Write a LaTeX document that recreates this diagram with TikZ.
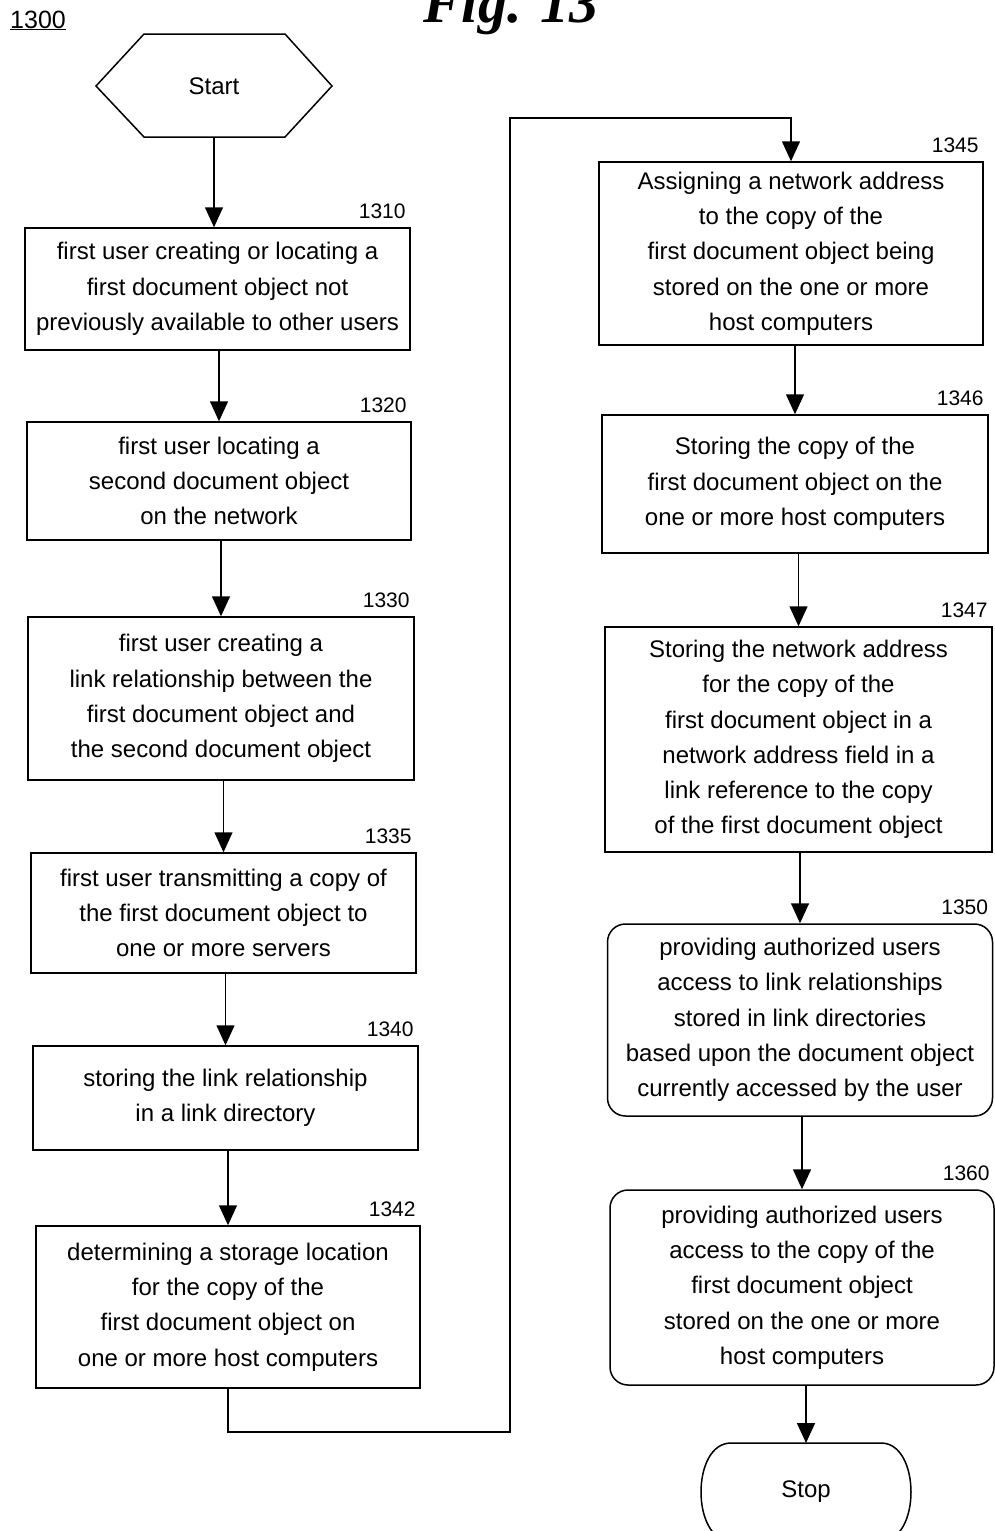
\documentclass[tikz,border=0pt]{standalone}
\usepackage{fontspec}
\setmainfont{Liberation Sans}
\newfontfamily\figfont{Liberation Serif}
\usetikzlibrary{arrows.meta}

\tikzset{
  stepbox/.style={draw, line width=1.5pt, align=center, inner sep=0pt, font=\fontsize{24}{35.3}\selectfont},
  roundbox/.style={stepbox, rounded corners=18pt},
  steplabel/.style={anchor=south east, inner sep=0pt, font=\fontsize{21}{21}\selectfont},
  flow/.style={-{Triangle[length=20pt,width=18pt]}, line width=1.5pt},
  line/.style={line width=1.5pt},
}

\begin{document}
\begin{tikzpicture}[x=1pt,y=-1pt]

\useasboundingbox (0,0) rectangle (994,1531);

\node[anchor=base west, inner sep=0pt, font=\figfont\bfseries\itshape\fontsize{58}{58}\selectfont] (title) at (423,22) {Fig. 13};
\node[anchor=base west, inner sep=0pt, font=\fontsize{25}{25}\selectfont] (fignum) at (10,28) {\underline{1300}};

\node[font=\fontsize{24}{24}\selectfont] (start) at (214,86) {Start};
\draw[line] (96,86) -- (144,34) -- (285,34) -- (332,86) -- (285,137) -- (144,137) -- cycle;
\coordinate (startbot) at (214,137);

\node[stepbox, minimum width=385pt, minimum height=122pt] (b1310) at (217.5,289) {first user creating or locating a\\first document object not\\previously available to other users};
\node[stepbox, minimum width=384pt, minimum height=118pt] (b1320) at (219,481) {first user locating a\\second document object\\on the network};
\node[stepbox, minimum width=386pt, minimum height=163pt] (b1330) at (221,698.5) {first user creating a\\link relationship between the\\first document object and\\the second document object};
\node[stepbox, minimum width=385pt, minimum height=120pt] (b1335) at (223.5,913) {first user transmitting a copy of\\the first document object to\\one or more servers};
\node[stepbox, minimum width=385pt, minimum height=104pt] (b1340) at (225.5,1098) {storing the link relationship\\in a link directory};
\node[stepbox, minimum width=384pt, minimum height=162pt] (b1342) at (228,1307) {determining a storage location\\for the copy of the\\first document object on\\one or more host computers};

\node[stepbox, minimum width=384pt, minimum height=183pt] (b1345) at (791,253.5) {Assigning a network address\\to the copy of the\\first document object being\\stored on the one or more\\host computers};
\node[stepbox, minimum width=386pt, minimum height=138pt] (b1346) at (795,484) {Storing the copy of the\\first document object on the\\one or more host computers};
\node[stepbox, minimum width=387pt, minimum height=225pt] (b1347) at (798.5,739.5) {Storing the network address\\for the copy of the\\first document object in a\\network address field in a\\link reference to the copy\\of the first document object};
\node[roundbox, minimum width=385pt, minimum height=192pt] (b1350) at (800,1020) {providing authorized users\\access to link relationships\\stored in link directories\\based upon the document object\\currently accessed by the user};
\node[roundbox, minimum width=384pt, minimum height=195pt] (b1360) at (802,1287.5) {providing authorized users\\access to the copy of the\\first document object\\stored on the one or more\\host computers};

\node[font=\fontsize{24}{24}\selectfont] (stop) at (806,1492) {Stop};
\draw[line] (731,1443) -- (881,1443) .. controls (921,1443) and (921,1541) .. (881,1541) -- (731,1541) .. controls (691,1541) and (691,1443) .. (731,1443) -- cycle;
\coordinate (stoptop) at (806,1443);

\foreach \b in {1310,1320,1330,1335,1340,1342,1345,1346,1347,1350,1360}
  \node[steplabel] (l\b) at ([xshift=-5pt,yshift=8pt]b\b.north east) {\b};

\draw[flow] (startbot) -- (startbot |- b1310.north);
\draw[flow] (b1320.north |- b1310.south) -- (b1320.north);
\draw[flow] (b1330.north |- b1320.south) -- (b1330.north);
\draw[flow] (b1335.north |- b1330.south) -- (b1335.north);
\draw[flow] (b1340.north |- b1335.south) -- (b1340.north);
\draw[flow] (b1342.north |- b1340.south) -- (b1342.north);
\coordinate (turnlow) at (510,1432);
\coordinate (turnhigh) at (510,118);
\draw[flow] (b1342.south) -- (b1342.south |- turnlow) -- (turnlow) -- (turnhigh) -- (turnhigh -| b1345.north) -- (b1345.north);
\draw[flow] (b1346.north |- b1345.south) -- (b1346.north);
\draw[flow] (b1347.north |- b1346.south) -- (b1347.north);
\draw[flow] (b1350.north |- b1347.south) -- (b1350.north);
\draw[flow] (b1360.north |- b1350.south) -- (b1360.north);
\draw[flow] (stoptop |- b1360.south) -- (stoptop);

\end{tikzpicture}
\end{document}
